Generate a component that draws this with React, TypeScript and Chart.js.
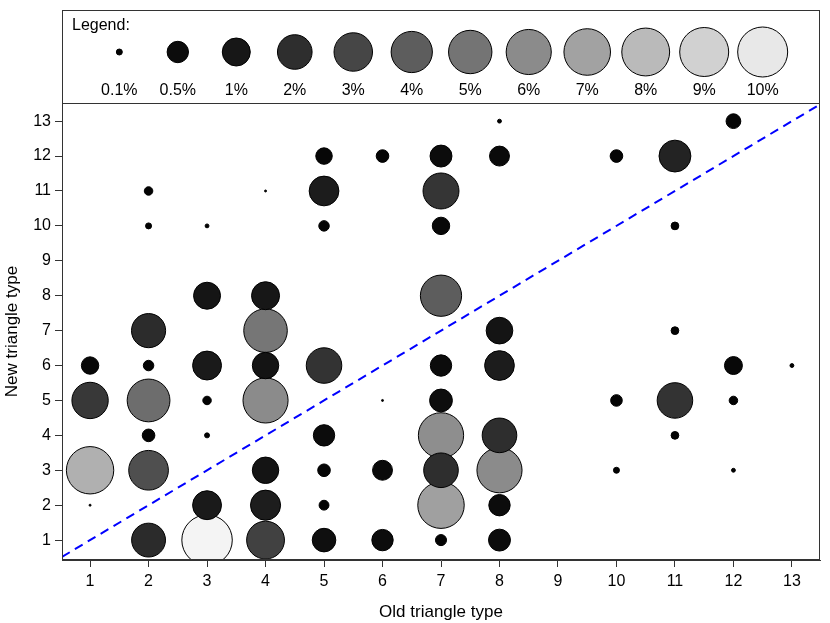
import React, { useEffect, useRef } from "react";
import { Chart, registerables } from "chart.js";

Chart.register(...registerables);

// ---- data ----
const xTicks = [1, 2, 3, 4, 5, 6, 7, 8, 9, 10, 11, 12, 13];
const yTicks = [1, 2, 3, 4, 5, 6, 7, 8, 9, 10, 11, 12, 13];

const oldType = [
  1, 1, 1, 1,
  2, 2, 2, 2, 2, 2, 2, 2,
  3, 3, 3, 3, 3, 3, 3,
  4, 4, 4, 4, 4, 4, 4, 4,
  5, 5, 5, 5, 5, 5, 5, 5,
  6, 6, 6, 6,
  7, 7, 7, 7, 7, 7, 7, 7, 7, 7,
  8, 8, 8, 8, 8, 8, 8, 8,
  10, 10, 10,
  11, 11, 11, 11, 11,
  12, 12, 12, 12,
  13,
];
const newType = [
  6, 5, 3, 2,
  11, 10, 7, 6, 5, 4, 3, 1,
  10, 8, 6, 5, 4, 2, 1,
  11, 8, 7, 6, 5, 3, 2, 1,
  12, 11, 10, 6, 4, 3, 2, 1,
  12, 5, 3, 1,
  12, 11, 10, 8, 6, 5, 4, 3, 2, 1,
  13, 12, 7, 6, 4, 3, 2, 1,
  12, 5, 3,
  12, 10, 7, 5, 4,
  13, 6, 5, 3,
  6,
];
const share = [
  0.33, 2.4, 7.6, 0.06,
  0.13, 0.1, 1.9, 0.16, 4.7, 0.2, 3.4, 1.85,
  0.08, 0.9, 1.1, 0.13, 0.09, 1.1, 10.5,
  0.065, 1.0, 5.1, 0.85, 6.0, 0.85, 1.25, 2.8,
  0.3, 1.2, 0.16, 2.2, 0.5, 0.2, 0.15, 0.63,
  0.2, 0.055, 0.43, 0.5,
  0.53, 2.3, 0.33, 4.0, 0.5, 0.58, 6.1, 2.0, 6.9, 0.17,
  0.08, 0.43, 0.87, 1.2, 2.0, 6.0, 0.5, 0.53,
  0.2, 0.18, 0.1,
  1.5, 0.12, 0.12, 2.2, 0.12,
  0.25, 0.35, 0.13, 0.08,
  0.08,
];

const legendShares = [0.1, 0.5, 1, 2, 3, 4, 5, 6, 7, 8, 9, 10];
const legendLabels = ["0.1%", "0.5%", "1%", "2%", "3%", "4%", "5%", "6%", "7%", "8%", "9%", "10%"];
const legendTitle = "Legend:";
const diagonal = [0.52, 13.48];
const xTitle = "Old triangle type";
const yTitle = "New triangle type";

// ---- styling helpers ----
const FONT = "'Liberation Sans', Arial, Helvetica, sans-serif";
const radiusFor = (p: number) => Math.max(1, 14 + 11 * Math.log10(p));
const greyFor = (p: number) => {
  const g = Math.min(255, Math.max(0, Math.round(23.2 * p)));
  return `rgb(${g},${g},${g})`;
};

const framePlugin = {
  id: "frameAndLegend",
  afterDraw(chart: any) {
    const { ctx, chartArea: a, scales } = chart;
    const xs = scales.x;
    ctx.save();
    ctx.strokeStyle = "#333";
    ctx.lineWidth = 1;
    const L = Math.round(a.left) + 0.5;
    const R = Math.round(a.right) - 0.5;
    const T = Math.round(a.top) + 0.5;
    const B = Math.round(a.bottom) - 0.5;
    // plot box
    ctx.strokeRect(L, T, R - L, B - T);
    // legend box
    const lt = 10.5;
    ctx.strokeRect(L, lt, R - L, T - lt);
    // legend title
    ctx.fillStyle = "#000";
    ctx.font = `16px ${FONT}`;
    ctx.textAlign = "left";
    ctx.textBaseline = "middle";
    ctx.fillText(legendTitle, a.left + 10, 26);
    // legend bubbles and labels
    legendShares.forEach((p, i) => {
      const cx = xs.getPixelForValue(1.5 + i);
      const cy = a.top - 51;
      ctx.beginPath();
      ctx.arc(cx, cy, radiusFor(p), 0, Math.PI * 2);
      ctx.fillStyle = greyFor(p);
      ctx.fill();
      ctx.strokeStyle = "#000";
      ctx.stroke();
      ctx.fillStyle = "#000";
      ctx.textAlign = "center";
      ctx.fillText(legendLabels[i], cx, a.top - 12);
    });
    ctx.restore();
  },
};

export default function App() {
  const ref = useRef<HTMLCanvasElement | null>(null);

  useEffect(() => {
    if (!ref.current) return;
    const idx = share.map((_, i) => i).sort((a, b) => share[b] - share[a]);
    const points = idx.map((i) => ({ x: oldType[i], y: newType[i], r: radiusFor(share[i]) }));
    const colors = idx.map((i) => greyFor(share[i]));

    const tickFont = { family: FONT, size: 16 };
    const titleFont = { family: FONT, size: 17 };
    const chart = new Chart(ref.current, {
      type: "bubble",
      data: {
        datasets: [
          {
            type: "line",
            data: diagonal.map((v) => ({ x: v, y: v })),
            borderColor: "#0000ff",
            borderDash: [9, 6],
            borderWidth: 2,
            pointRadius: 0,
            fill: false,
            order: 0,
          } as any,
          {
            type: "bubble",
            data: points,
            backgroundColor: colors,
            borderColor: "#000",
            borderWidth: 1,
            hoverBorderWidth: 1,
            clip: 0,
            order: 1,
          } as any,
        ],
      },
      options: {
        animation: false,
        responsive: false,
        events: [],
        layout: { autoPadding: false, padding: { top: 103, right: 10, left: 0, bottom: 0 } },
        plugins: { legend: { display: false }, tooltip: { enabled: false } },
        scales: {
          x: {
            type: "linear",
            min: 0.52,
            max: 13.48,
            afterBuildTicks: (s: any) => {
              s.ticks = xTicks.map((v) => ({ value: v }));
            },
            afterFit: (s: any) => {
              s.height = 63;
              s.paddingLeft = 0;
              s.paddingRight = 0;
            },
            grid: { drawOnChartArea: false, drawTicks: true, tickLength: 7, color: "#333" },
            border: { display: true, color: "#333" },
            ticks: { color: "#000", font: tickFont, padding: 5, autoSkip: false, maxRotation: 0 },
            title: { display: true, text: xTitle, color: "#000", font: titleFont, padding: { top: 0, bottom: 0 } },
          },
          y: {
            type: "linear",
            min: 0.43,
            max: 13.52,
            afterBuildTicks: (s: any) => {
              s.ticks = yTicks.map((v) => ({ value: v }));
            },
            afterFit: (s: any) => {
              s.width = 62;
              s.paddingTop = 0;
              s.paddingBottom = 0;
            },
            grid: { drawOnChartArea: false, drawTicks: true, tickLength: 7, color: "#333" },
            border: { display: true, color: "#333" },
            ticks: { color: "#000", font: tickFont, padding: 4, autoSkip: false },
            title: { display: true, text: yTitle, color: "#000", font: titleFont, padding: { top: 2, bottom: 0 } },
          },
        },
      } as any,
      plugins: [framePlugin],
    });
    return () => chart.destroy();
  }, []);

  return (
    <div style={{ position: "absolute", left: 0, top: 0, width: 830, height: 623, background: "#fff" }}>
      <canvas ref={ref} width={830} height={623} style={{ display: "block", width: 830, height: 623 }} />
    </div>
  );
}
